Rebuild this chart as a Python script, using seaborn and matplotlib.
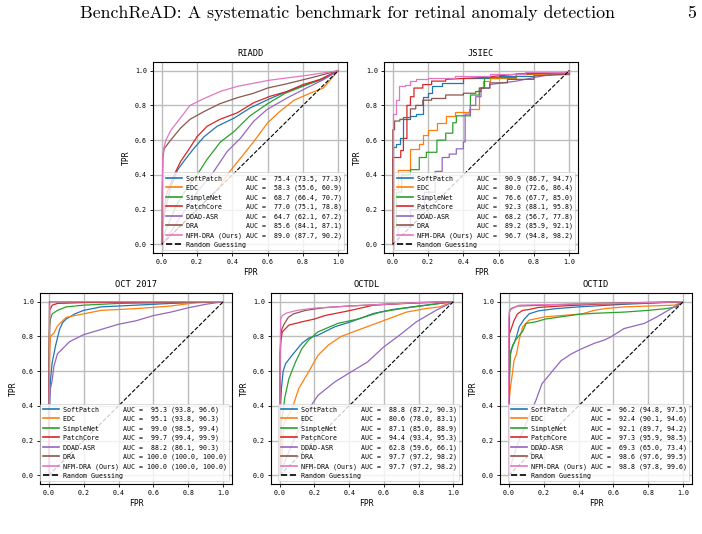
import matplotlib
matplotlib.use("Agg")
import matplotlib.pyplot as plt
import seaborn as sns
import pandas as pd

# ---------------- data ----------------
datasets = ["RIADD", "JSIEC", "OCT 2017", "OCTDL", "OCTID"]
methods = ["SoftPatch", "EDC", "SimpleNet", "PatchCore", "DDAD-ASR", "DRA", "NFM-DRA (Ours)"]
colors = ["#1f77b4", "#ff7f0e", "#2ca02c", "#d62728", "#9467bd", "#8c564b", "#e377c2"]
ticks = [0.0, 0.2, 0.4, 0.6, 0.8, 1.0]

riadd_auc = [75.4, 58.3, 68.7, 77.0, 64.7, 85.6, 89.0]
riadd_lo = [73.5, 55.6, 66.4, 75.1, 62.1, 84.1, 87.7]
riadd_hi = [77.3, 60.9, 70.7, 78.8, 67.2, 87.1, 90.2]

jsiec_auc = [90.9, 80.0, 76.6, 92.3, 68.2, 89.2, 96.7]
jsiec_lo = [86.7, 72.6, 67.7, 88.1, 56.7, 85.9, 94.8]
jsiec_hi = [94.7, 86.4, 85.0, 95.8, 77.8, 92.1, 98.2]

oct_auc = [95.3, 95.1, 99.0, 99.7, 88.2, 100.0, 100.0]
oct_lo = [93.8, 93.8, 98.5, 99.4, 86.1, 100.0, 100.0]
oct_hi = [96.6, 96.3, 99.4, 99.9, 90.3, 100.0, 100.0]

octdl_auc = [88.8, 80.6, 87.1, 94.4, 62.8, 97.7, 97.7]
octdl_lo = [87.2, 78.0, 85.0, 93.4, 59.6, 97.2, 97.2]
octdl_hi = [90.3, 83.1, 88.9, 95.3, 66.1, 98.2, 98.2]

octid_auc = [96.2, 92.4, 92.1, 97.3, 69.3, 98.6, 98.8]
octid_lo = [94.8, 90.1, 89.7, 95.9, 65.0, 97.6, 97.8]
octid_hi = [97.5, 94.6, 94.2, 98.5, 73.4, 99.5, 99.6]

# ROC points (FPR, TPR)
riadd_softpatch = [(0, 0), (0.005, 0.1), (0.02, 0.2), (0.05, 0.33), (0.09, 0.43), (0.126, 0.48), (0.18, 0.55),
                   (0.24, 0.62), (0.314, 0.68), (0.41, 0.727), (0.5, 0.785), (0.615, 0.84), (0.71, 0.88),
                   (0.82, 0.92), (0.91, 0.95), (1, 1)]
riadd_edc = [(0, 0), (0.05, 0.05), (0.15, 0.15), (0.25, 0.25), (0.32, 0.32), (0.37, 0.40), (0.445, 0.495),
             (0.52, 0.59), (0.6, 0.70), (0.67, 0.766), (0.75, 0.83), (0.84, 0.87), (0.915, 0.9), (1, 1)]
riadd_simplenet = [(0, 0), (0.01, 0.05), (0.03, 0.1), (0.08, 0.22), (0.14, 0.32), (0.2, 0.40), (0.257, 0.49),
                   (0.333, 0.59), (0.41, 0.65), (0.5, 0.74), (0.6, 0.81), (0.7, 0.87), (0.8, 0.91),
                   (0.9, 0.95), (1, 1)]
riadd_patchcore = [(0, 0), (0.005, 0.12), (0.015, 0.22), (0.03, 0.3), (0.05, 0.35), (0.07, 0.40), (0.107, 0.478),
                   (0.145, 0.534), (0.2, 0.62), (0.257, 0.68), (0.33, 0.72), (0.427, 0.757), (0.52, 0.815),
                   (0.615, 0.853), (0.71, 0.88), (0.80, 0.92), (0.9, 0.95), (1, 1)]
riadd_ddad = [(0, 0), (0.05, 0.07), (0.12, 0.18), (0.2, 0.3), (0.295, 0.42), (0.37, 0.534), (0.445, 0.61),
              (0.52, 0.708), (0.596, 0.776), (0.71, 0.843), (0.82, 0.9), (0.92, 0.95), (1, 1)]
riadd_dra = [(0, 0), (0.003, 0.3), (0.006, 0.5), (0.013, 0.55), (0.05, 0.6), (0.107, 0.67), (0.16, 0.72),
             (0.24, 0.765), (0.33, 0.81), (0.43, 0.845), (0.52, 0.87), (0.6, 0.9), (0.71, 0.925),
             (0.85, 0.96), (1, 1)]
riadd_nfm = [(0, 0), (0.002, 0.3), (0.005, 0.5), (0.01, 0.55), (0.023, 0.6), (0.05, 0.655), (0.107, 0.73),
             (0.16, 0.80), (0.24, 0.84), (0.33, 0.88), (0.43, 0.91), (0.61, 0.945), (0.80, 0.97), (1, 1)]

jsiec_softpatch = [(0, 0), (0, 0.56), (0.02, 0.56), (0.02, 0.58), (0.04, 0.58), (0.04, 0.61), (0.06, 0.61),
                   (0.06, 0.72), (0.1, 0.72), (0.1, 0.74), (0.13, 0.74), (0.13, 0.75), (0.17, 0.75),
                   (0.17, 0.85), (0.2, 0.85), (0.2, 0.87), (0.22, 0.87), (0.22, 0.91), (0.28, 0.91),
                   (0.28, 0.93), (0.4, 0.93), (0.4, 0.96), (0.6, 0.96), (0.6, 0.97), (0.8, 0.97),
                   (0.8, 0.98), (1, 0.98), (1, 1)]
jsiec_edc = [(0, 0), (0, 0.32), (0.03, 0.32), (0.03, 0.43), (0.1, 0.43), (0.1, 0.55), (0.15, 0.55),
             (0.15, 0.58), (0.17, 0.58), (0.17, 0.63), (0.2, 0.63), (0.2, 0.66), (0.25, 0.66), (0.25, 0.7),
             (0.3, 0.7), (0.3, 0.74), (0.35, 0.74), (0.35, 0.76), (0.43, 0.76), (0.43, 0.78), (0.49, 0.78),
             (0.49, 0.9), (0.51, 0.9), (0.51, 0.94), (0.55, 0.94), (0.55, 0.96), (0.7, 0.96), (0.7, 0.98),
             (1, 0.98), (1, 1)]
jsiec_simplenet = [(0, 0), (0, 0.1), (0.02, 0.1), (0.02, 0.3), (0.05, 0.3), (0.05, 0.4), (0.1, 0.4),
                   (0.1, 0.43), (0.15, 0.43), (0.15, 0.5), (0.19, 0.5), (0.19, 0.53), (0.25, 0.53),
                   (0.25, 0.6), (0.3, 0.6), (0.3, 0.64), (0.34, 0.64), (0.34, 0.7), (0.36, 0.7),
                   (0.36, 0.74), (0.44, 0.74), (0.44, 0.86), (0.49, 0.86), (0.49, 0.9), (0.52, 0.9),
                   (0.52, 0.96), (0.7, 0.96), (0.7, 0.98), (1, 0.99), (1, 1)]
jsiec_patchcore = [(0, 0), (0, 0.5), (0.045, 0.5), (0.045, 0.54), (0.06, 0.54), (0.06, 0.61), (0.08, 0.61),
                   (0.08, 0.8), (0.1, 0.8), (0.1, 0.85), (0.12, 0.85), (0.12, 0.9), (0.17, 0.9),
                   (0.17, 0.92), (0.22, 0.92), (0.22, 0.94), (0.3, 0.94), (0.3, 0.95), (0.5, 0.96),
                   (0.7, 0.98), (1, 0.99), (1, 1)]
jsiec_ddad = [(0, 0), (0.03, 0), (0.03, 0.1), (0.1, 0.1), (0.1, 0.2), (0.18, 0.2), (0.18, 0.3), (0.24, 0.3),
              (0.24, 0.42), (0.28, 0.42), (0.28, 0.5), (0.32, 0.5), (0.32, 0.52), (0.36, 0.52), (0.36, 0.55),
              (0.4, 0.55), (0.4, 0.59), (0.41, 0.59), (0.41, 0.75), (0.44, 0.75), (0.44, 0.8), (0.47, 0.8),
              (0.47, 0.85), (0.5, 0.85), (0.5, 0.9), (0.55, 0.9), (0.55, 0.92), (0.7, 0.94), (0.85, 0.97),
              (1, 0.99), (1, 1)]
jsiec_dra = [(0, 0), (0, 0.66), (0.01, 0.66), (0.01, 0.71), (0.04, 0.71), (0.04, 0.72), (0.06, 0.72),
             (0.06, 0.73), (0.1, 0.73), (0.1, 0.78), (0.13, 0.78), (0.13, 0.8), (0.17, 0.8), (0.17, 0.83),
             (0.22, 0.83), (0.22, 0.84), (0.3, 0.84), (0.3, 0.86), (0.4, 0.86), (0.4, 0.87), (0.47, 0.87),
             (0.47, 0.88), (0.5, 0.88), (0.5, 0.9), (0.55, 0.9), (0.55, 0.93), (0.65, 0.93), (0.65, 0.95),
             (0.8, 0.95), (0.8, 0.97), (1, 0.98), (1, 1)]
jsiec_nfm = [(0, 0), (0, 0.75), (0.02, 0.75), (0.02, 0.83), (0.035, 0.83), (0.035, 0.91), (0.07, 0.91),
             (0.07, 0.92), (0.1, 0.92), (0.1, 0.94), (0.13, 0.94), (0.13, 0.95), (0.2, 0.95), (0.2, 0.96),
             (0.35, 0.96), (0.35, 0.97), (0.55, 0.97), (0.55, 0.98), (0.75, 0.98), (0.75, 0.99),
             (1, 0.99), (1, 1)]

oct_softpatch = [(0, 0), (0.005, 0.4), (0.01, 0.55), (0.02, 0.65), (0.04, 0.75), (0.062, 0.84), (0.08, 0.88),
                 (0.1, 0.9), (0.15, 0.93), (0.2, 0.95), (0.3, 0.97), (0.5, 0.98), (0.7, 0.99), (1, 1)]
oct_edc = [(0, 0), (0.003, 0.5), (0.006, 0.7), (0.01, 0.8), (0.03, 0.82), (0.05, 0.86), (0.07, 0.88),
           (0.1, 0.91), (0.2, 0.93), (0.3, 0.95), (0.5, 0.96), (0.7, 0.975), (0.85, 0.995), (1, 1)]
oct_simplenet = [(0, 0), (0.002, 0.7), (0.005, 0.85), (0.01, 0.9), (0.02, 0.93), (0.05, 0.95), (0.1, 0.97),
                 (0.2, 0.98), (0.4, 0.99), (1, 1)]
oct_patchcore = [(0, 0), (0.002, 0.5), (0.005, 0.95), (0.02, 0.98), (0.05, 0.99), (0.2, 0.995), (1, 1)]
oct_ddad = [(0, 0), (0.005, 0.45), (0.01, 0.5), (0.02, 0.55), (0.03, 0.63), (0.05, 0.7), (0.08, 0.73),
            (0.12, 0.77), (0.2, 0.81), (0.3, 0.84), (0.4, 0.87), (0.5, 0.89), (0.6, 0.92), (0.7, 0.94),
            (0.8, 0.965), (0.9, 0.985), (1, 1)]
oct_dra = [(0, 0), (0.004, 1.0), (1, 1)]
oct_nfm = [(0, 0), (0.006, 0.99), (0.01, 1.0), (1, 1)]

octdl_softpatch = [(0, 0), (0.005, 0.4), (0.01, 0.5), (0.02, 0.6), (0.034, 0.643), (0.07, 0.69), (0.128, 0.76),
                   (0.166, 0.79), (0.22, 0.807), (0.316, 0.855), (0.41, 0.884), (0.54, 0.932), (0.65, 0.955),
                   (0.8, 0.975), (1, 1)]
octdl_edc = [(0, 0), (0.01, 0.05), (0.015, 0.15), (0.024, 0.3), (0.07, 0.38), (0.11, 0.5), (0.166, 0.595),
             (0.22, 0.69), (0.28, 0.75), (0.354, 0.80), (0.45, 0.836), (0.58, 0.884), (0.73, 0.94),
             (0.84, 0.96), (0.92, 0.97), (1, 1)]
octdl_simplenet = [(0, 0), (0.01, 0.3), (0.03, 0.45), (0.053, 0.556), (0.09, 0.65), (0.128, 0.73),
                   (0.166, 0.778), (0.22, 0.826), (0.335, 0.875), (0.45, 0.90), (0.58, 0.94), (0.7, 0.96),
                   (0.85, 0.98), (1, 1)]
octdl_patchcore = [(0, 0), (0.002, 0.7), (0.006, 0.77), (0.015, 0.826), (0.053, 0.865), (0.128, 0.884),
                   (0.2, 0.9), (0.26, 0.92), (0.41, 0.95), (0.54, 0.98), (0.73, 0.99), (1, 1)]
octdl_ddad = [(0, 0), (0.03, 0.08), (0.08, 0.2), (0.13, 0.3), (0.18, 0.4), (0.22, 0.46), (0.316, 0.537),
              (0.41, 0.595), (0.505, 0.652), (0.6, 0.74), (0.69, 0.807), (0.787, 0.884), (0.9, 0.95), (1, 1)]
octdl_dra = [(0, 0), (0.003, 0.6), (0.006, 0.8), (0.012, 0.84), (0.025, 0.87), (0.05, 0.91), (0.08, 0.93),
             (0.15, 0.95), (0.25, 0.965), (0.4, 0.975), (0.6, 0.985), (0.8, 0.995), (1, 1)]
octdl_nfm = [(0, 0), (0.003, 0.7), (0.006, 0.9), (0.015, 0.92), (0.04, 0.935), (0.1, 0.95), (0.2, 0.963),
             (0.4, 0.975), (0.6, 0.985), (0.8, 0.995), (1, 1)]

octid_softpatch = [(0, 0), (0.004, 0.6), (0.008, 0.68), (0.013, 0.72), (0.03, 0.76), (0.045, 0.8),
                   (0.06, 0.855), (0.089, 0.9), (0.117, 0.93), (0.17, 0.947), (0.27, 0.96), (0.4, 0.97),
                   (0.66, 0.985), (1, 1)]
octid_edc = [(0, 0), (0, 0.3), (0.004, 0.45), (0.013, 0.53), (0.023, 0.6), (0.03, 0.66), (0.045, 0.7),
             (0.06, 0.78), (0.08, 0.855), (0.117, 0.894), (0.21, 0.913), (0.3, 0.92), (0.42, 0.93),
             (0.49, 0.95), (0.55, 0.96), (0.66, 0.97), (0.8, 0.975), (0.95, 0.98), (1, 1)]
octid_simplenet = [(0, 0), (0.004, 0.55), (0.01, 0.70), (0.023, 0.75), (0.04, 0.78), (0.08, 0.83),
                   (0.1, 0.875), (0.155, 0.884), (0.21, 0.90), (0.3, 0.913), (0.4, 0.927), (0.49, 0.933),
                   (0.66, 0.94), (0.8, 0.95), (0.9, 0.96), (0.96, 0.97), (1, 1)]
octid_patchcore = [(0, 0), (0, 0.8), (0.004, 0.817), (0.013, 0.84), (0.03, 0.89), (0.05, 0.93), (0.08, 0.95),
                   (0.117, 0.955), (0.17, 0.967), (0.3, 0.975), (0.5, 0.985), (0.7, 0.99), (1, 1)]
octid_ddad = [(0, 0), (0.01, 0.05), (0.05, 0.18), (0.1, 0.3), (0.155, 0.43), (0.19, 0.527), (0.25, 0.60),
              (0.3, 0.66), (0.36, 0.70), (0.42, 0.73), (0.49, 0.76), (0.55, 0.78), (0.59, 0.80),
              (0.66, 0.845), (0.777, 0.875), (0.85, 0.913), (0.93, 0.96), (1, 1)]
octid_dra = [(0, 0), (0.004, 0.94), (0.013, 0.96), (0.05, 0.975), (0.2, 0.98), (0.5, 0.99), (1, 1)]
octid_nfm = [(0, 0), (0, 0.9), (0.005, 0.95), (0.02, 0.96), (0.06, 0.98), (0.3, 0.985), (0.6, 0.99), (1, 1)]

random_guess = [(0, 0), (1, 1)]

curves = {
    "RIADD": [riadd_softpatch, riadd_edc, riadd_simplenet, riadd_patchcore, riadd_ddad, riadd_dra, riadd_nfm],
    "JSIEC": [jsiec_softpatch, jsiec_edc, jsiec_simplenet, jsiec_patchcore, jsiec_ddad, jsiec_dra, jsiec_nfm],
    "OCT 2017": [oct_softpatch, oct_edc, oct_simplenet, oct_patchcore, oct_ddad, oct_dra, oct_nfm],
    "OCTDL": [octdl_softpatch, octdl_edc, octdl_simplenet, octdl_patchcore, octdl_ddad, octdl_dra, octdl_nfm],
    "OCTID": [octid_softpatch, octid_edc, octid_simplenet, octid_patchcore, octid_ddad, octid_dra, octid_nfm],
}
stats = {
    "RIADD": (riadd_auc, riadd_lo, riadd_hi),
    "JSIEC": (jsiec_auc, jsiec_lo, jsiec_hi),
    "OCT 2017": (oct_auc, oct_lo, oct_hi),
    "OCTDL": (octdl_auc, octdl_lo, octdl_hi),
    "OCTID": (octid_auc, octid_lo, octid_hi),
}

# ---------------- layout (pixels: left, top, right, bottom) ----------------
W, H = 702, 534
boxes = {
    "RIADD": (153, 62, 347, 253),
    "JSIEC": (384, 62, 578, 253),
    "OCT 2017": (40, 293, 232, 484),
    "OCTDL": (271, 293, 462, 484),
    "OCTID": (500, 293, 692, 484),
}

plt.rcParams["font.family"] = ["DejaVu Sans Mono"]
plt.rcParams["axes.linewidth"] = 0.8

fig = plt.figure(figsize=(W / 100, H / 100), dpi=100)
fig.patch.set_facecolor("white")

fig.text(80 / W, 1 - 18 / H, "BenchReAD: A systematic benchmark for retinal anomaly detection",
         family="cmr10", fontsize=12.9, ha="left", va="baseline")
fig.text(696 / W, 1 - 18 / H, "5", family="cmr10", fontsize=12.9, ha="right", va="baseline")

for name in datasets:
    l, t, r, b = boxes[name]
    ax = fig.add_axes([l / W, 1 - b / H, (r - l) / W, (b - t) / H])
    aucs, los, his = stats[name]
    for i, m in enumerate(methods):
        pts = curves[name][i]
        df = pd.DataFrame(pts, columns=["FPR", "TPR"])
        label = f"{m:<14} AUC = {aucs[i]:5.1f} ({los[i]:.1f}, {his[i]:.1f})"
        sns.lineplot(data=df, x="FPR", y="TPR", ax=ax, color=colors[i], lw=0.9,
                     estimator=None, sort=False, label=label)
    dfr = pd.DataFrame(random_guess, columns=["FPR", "TPR"])
    sns.lineplot(data=dfr, x="FPR", y="TPR", ax=ax, color="black", lw=0.8, linestyle="--",
                 estimator=None, sort=False, label="Random Guessing")
    ax.set_xlim(-0.05, 1.05)
    ax.set_ylim(-0.05, 1.05)
    ax.set_xticks(ticks)
    ax.set_yticks(ticks)
    ax.set_xticklabels([f"{v:.1f}" for v in ticks])
    ax.set_yticklabels([f"{v:.1f}" for v in ticks])
    ax.grid(True, color="#bdbdbd", lw=1.0)
    ax.set_axisbelow(True)
    ax.tick_params(labelsize=4.8, length=2.5, width=0.6, pad=2)
    ax.set_xlabel("FPR", fontsize=5.8, labelpad=2)
    ax.set_ylabel("TPR", fontsize=5.8, labelpad=3)
    ax.set_title(name, fontsize=6.3, pad=4)
    leg = ax.legend(loc="lower right", fontsize=4.8, handlelength=2.4, borderaxespad=0.4,
                    labelspacing=0.45, handletextpad=0.6, borderpad=0.4)
    leg.get_frame().set_linewidth(0.6)
    for line in leg.get_lines():
        line.set_linewidth(1.2)

fig.savefig("out.png", dpi=100)
